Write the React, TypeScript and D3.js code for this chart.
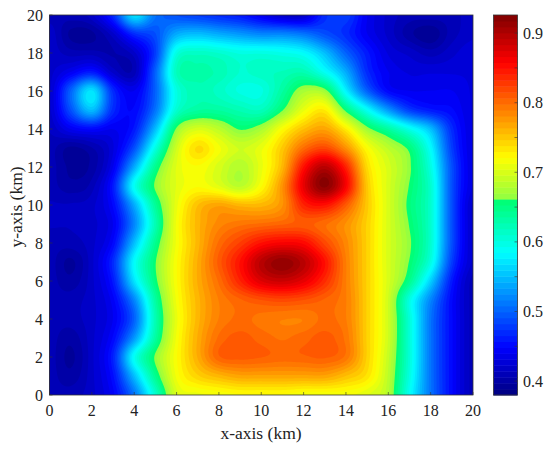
import React, { useMemo } from "react";
import * as d3 from "d3";

const xTicks = d3.range(0, 21, 2);
const yTicks = d3.range(0, 21, 2);
const barTicks = [0.4, 0.5, 0.6, 0.7, 0.8, 0.9];
const barMinorTicks = [0.45, 0.55, 0.65, 0.75, 0.85];
const vMin = 0.38;
const vMax = 0.926;

// rows from y = 20 (top) to y = 0 (bottom), columns x = 0..20
const row20 = [.41,.41,.42,.47,.57,.51,.49,.48,.47,.46,.44,.42,.42,.47,.48,.44,.42,.41,.41,.41,.42];
const row19 = [.42,.395,.395,.42,.47,.49,.54,.55,.54,.53,.52,.52,.51,.49,.47,.44,.42,.40,.39,.41,.42];
const row18 = [.42,.41,.41,.405,.42,.48,.60,.615,.61,.60,.60,.595,.585,.55,.50,.46,.43,.42,.41,.42,.43];
const row17 = [.42,.44,.46,.42,.41,.50,.62,.63,.625,.61,.615,.62,.625,.59,.54,.47,.44,.43,.43,.43,.43];
const row16 = [.42,.50,.57,.47,.44,.50,.60,.625,.615,.60,.60,.635,.675,.67,.58,.50,.45,.44,.44,.44,.43];
const row15 = [.42,.49,.55,.47,.45,.51,.61,.635,.635,.625,.62,.66,.71,.73,.655,.59,.53,.48,.46,.45,.43];
const row14 = [.415,.44,.45,.44,.46,.55,.665,.70,.685,.66,.675,.72,.755,.77,.73,.67,.635,.595,.55,.47,.43];
const row13 = [.41,.395,.405,.43,.49,.60,.695,.74,.715,.695,.71,.75,.80,.82,.78,.72,.685,.655,.585,.48,.43];
const row12 = [.41,.395,.40,.44,.54,.645,.705,.72,.70,.68,.71,.76,.85,.895,.84,.74,.70,.665,.60,.49,.43];
const row11 = [.41,.40,.41,.46,.59,.665,.705,.72,.705,.685,.72,.78,.87,.92,.86,.75,.70,.66,.61,.49,.43];
const row10 = [.415,.415,.42,.45,.54,.64,.71,.755,.77,.76,.76,.78,.84,.85,.81,.75,.70,.655,.61,.49,.42];
const row09 = [.415,.415,.42,.44,.52,.625,.715,.76,.785,.795,.80,.805,.81,.80,.78,.745,.70,.66,.61,.49,.42];
const row08 = [.41,.41,.42,.45,.55,.645,.715,.76,.80,.825,.85,.86,.855,.82,.785,.745,.70,.665,.61,.49,.42];
const row07 = [.41,.395,.42,.47,.585,.66,.72,.765,.81,.85,.895,.915,.895,.85,.79,.745,.70,.66,.60,.48,.42];
const row06 = [.41,.40,.42,.46,.57,.655,.72,.765,.80,.84,.875,.885,.87,.835,.79,.745,.70,.645,.56,.46,.41];
const row05 = [.41,.41,.42,.445,.52,.635,.715,.76,.79,.805,.815,.82,.815,.805,.79,.745,.695,.60,.52,.45,.41];
const row04 = [.41,.41,.42,.44,.50,.625,.71,.76,.79,.80,.795,.79,.79,.80,.79,.745,.695,.605,.51,.45,.41];
const row03 = [.41,.40,.42,.45,.53,.635,.715,.765,.80,.81,.803,.797,.803,.81,.795,.745,.695,.605,.51,.45,.41];
const row02 = [.41,.395,.42,.465,.59,.665,.72,.765,.805,.81,.807,.803,.805,.808,.795,.745,.69,.605,.51,.45,.41];
const row01 = [.41,.40,.42,.455,.55,.645,.715,.745,.76,.77,.77,.77,.77,.77,.755,.735,.685,.60,.51,.45,.41];
const row00 = [.41,.41,.42,.445,.51,.61,.70,.71,.715,.72,.72,.72,.715,.715,.715,.705,.68,.59,.51,.45,.41];
const rows = [row20,row19,row18,row17,row16,row15,row14,row13,row12,row11,row10,row09,row08,row07,row06,row05,row04,row03,row02,row01,row00];

const LEVELS = 64;
const LEFT = 49.5, RIGHT = 473, TOP = 15, BOTTOM = 395;
const BAR_L = 493.5, BAR_R = 517.5;
const FONT = "'Liberation Serif', serif";
const INK = "#333";
const TICK_SIZE = 16;
const LABEL_SIZE = 17.5;
const JUMP = 0.515;

// jet, with the reference's jump: red stays off until just past the middle
function jet(t: number) {
  const c = (v: number) => Math.round(255 * Math.max(0, Math.min(1, v)));
  const above = t >= JUMP;
  const r = above ? c(1.5 - Math.abs(4 * t - 3)) : 0;
  const b = c((1.5 - Math.abs(4 * t - 1)) * (above ? 0.6 : 1));
  return `rgb(${r},${c(1.5 - Math.abs(4 * t - 2))},${b})`;
}

// Catmull-Rom resampling of the read grid so the filled contours are smooth
function cr(p0: number, p1: number, p2: number, p3: number, t: number) {
  return 0.5 * (2 * p1 + (p2 - p0) * t + (2 * p0 - 5 * p1 + 4 * p2 - p3) * t * t + (3 * p1 - p0 - 3 * p2 + p3) * t * t * t);
}
function sample(r: number, c: number) {
  const n = rows.length - 1, m = rows[0].length - 1;
  const i = Math.min(Math.floor(r), n - 1), j = Math.min(Math.floor(c), m - 1);
  const tr = r - i, tc = c - j;
  const at = (a: number, b: number) => rows[Math.max(0, Math.min(n, a))][Math.max(0, Math.min(m, b))];
  const col = [-1, 0, 1, 2].map((d) => cr(at(i + d, j - 1), at(i + d, j), at(i + d, j + 1), at(i + d, j + 2), tc));
  return cr(col[0], col[1], col[2], col[3], tr);
}

export default function App() {
  const x = d3.scaleLinear().domain([0, 20]).range([LEFT, RIGHT]);
  const y = d3.scaleLinear().domain([0, 20]).range([BOTTOM, TOP]);
  const bar = d3.scaleLinear().domain([vMin, vMax]).range([BOTTOM, TOP]);
  const levels = d3.range(LEVELS).map((i) => vMin + ((vMax - vMin) * i) / LEVELS);
  const color = (i: number) => jet((i + 0.5) / LEVELS);

  const { paths } = useMemo(() => {
    const k = 12;
    const w = 20 * k + 1, h = 20 * k + 1;
    const vals = new Array(w * h);
    for (let r = 0; r < h; r++) for (let c = 0; c < w; c++) vals[r * w + c] = sample(r / k, c / k);
    const cs = d3.contours().size([w, h]).smooth(true).thresholds(levels)(vals as number[]);
    const sx = (RIGHT - LEFT) / (w - 1), sy = (BOTTOM - TOP) / (h - 1);
    const proj = d3.geoTransform({
      point(px: number, py: number) {
        (this as any).stream.point(LEFT + (px - 0.5) * sx, TOP + (py - 0.5) * sy);
      },
    });
    const gp = d3.geoPath(proj);
    return { paths: cs.map((c) => gp(c as any) || "") };
  }, []);

  return (
    <svg width={550} height={451} style={{ position: "absolute", left: 0, top: 0, background: "#fff" }} fontFamily={FONT}>
      <defs>
        <clipPath id="plot"><rect x={LEFT} y={TOP} width={RIGHT - LEFT} height={BOTTOM - TOP} /></clipPath>
      </defs>
      <rect x={LEFT} y={TOP} width={RIGHT - LEFT} height={BOTTOM - TOP} fill={color(0)} />
      <g clipPath="url(#plot)">
        {paths.map((d, i) => <path key={i} d={d} fill={color(i)} stroke="none" />)}
      </g>
      <rect x={LEFT} y={TOP} width={RIGHT - LEFT} height={BOTTOM - TOP} fill="none" stroke={INK} strokeWidth={0.8} />
      {xTicks.map((t) => (
        <g key={t}>
          <line x1={x(t)} x2={x(t)} y1={BOTTOM} y2={BOTTOM - 3} stroke={INK} strokeWidth={0.6} />
          <text x={x(t)} y={416} textAnchor="middle" fontSize={TICK_SIZE} fill="#222">{t}</text>
        </g>
      ))}
      {yTicks.map((t) => (
        <g key={t}>
          <line x1={LEFT} x2={LEFT + 3} y1={y(t)} y2={y(t)} stroke={INK} strokeWidth={0.6} />
          <text x={LEFT - 6.5} y={y(t) + 5.5} textAnchor="end" fontSize={TICK_SIZE} fill="#222">{t}</text>
        </g>
      ))}
      <text x={261} y={439} textAnchor="middle" fontSize={LABEL_SIZE} fill="#222">x-axis (km)</text>
      <text transform="translate(22,207) rotate(-90)" textAnchor="middle" fontSize={LABEL_SIZE} fill="#222">y-axis (km)</text>

      {levels.map((l, i) => (
        <rect key={i} x={BAR_L} width={BAR_R - BAR_L} y={bar(l + (vMax - vMin) / LEVELS)} height={bar(l) - bar(l + (vMax - vMin) / LEVELS) + 0.5} fill={color(i)} />
      ))}
      <rect x={BAR_L} y={TOP} width={BAR_R - BAR_L} height={BOTTOM - TOP} fill="none" stroke={INK} strokeWidth={0.8} />
      {barTicks.map((t) => (
        <g key={t}>
          <line x1={BAR_R - 3} x2={BAR_R} y1={bar(t)} y2={bar(t)} stroke={INK} strokeWidth={0.6} />
          <text x={BAR_R + 5.5} y={bar(t) + 5.5} fontSize={TICK_SIZE} fill="#222">{t.toFixed(1)}</text>
        </g>
      ))}
      {barMinorTicks.map((t) => (
        <line key={t} x1={BAR_R - 3} x2={BAR_R} y1={bar(t)} y2={bar(t)} stroke={INK} strokeWidth={0.6} />
      ))}
    </svg>
  );
}
